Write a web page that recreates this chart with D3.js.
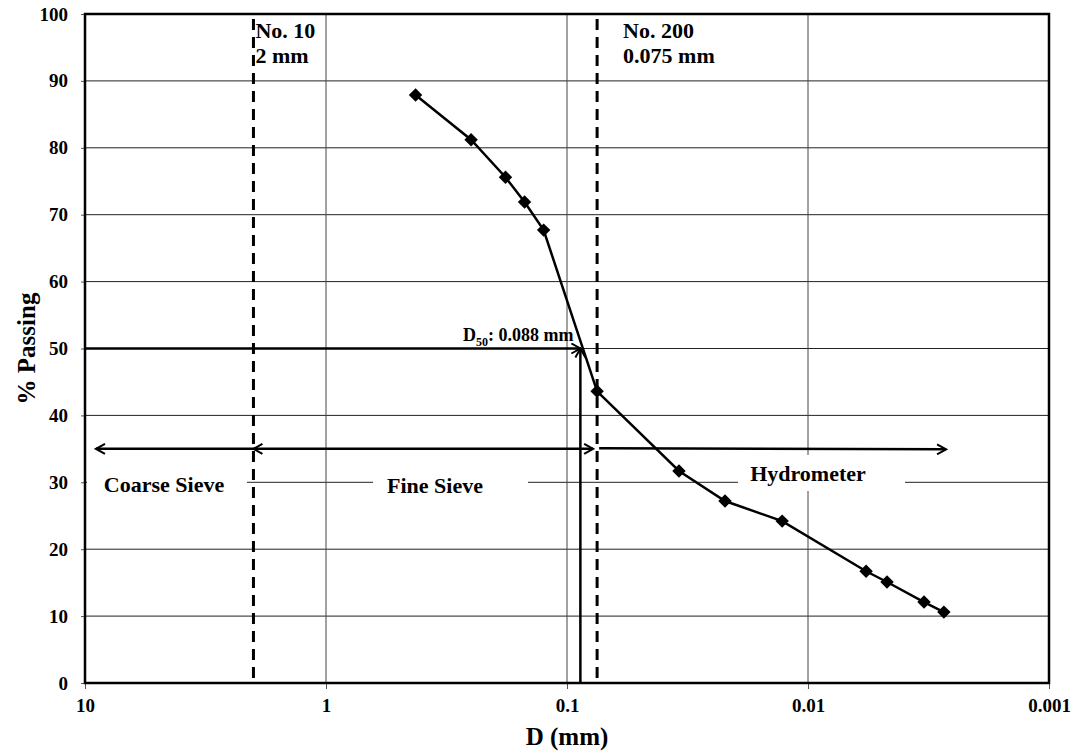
<!DOCTYPE html>
<html>
<head>
<meta http-equiv='Content-Type' content='text/html;charset=utf-8'/>
<title>Grain size distribution</title>
<script src='https://d3js.org/d3.v7.min.js'></script>
<style>
body { margin: 0; background: #ffffff; }
text { font-family: 'Liberation Serif', 'Times New Roman', serif; font-weight: bold; fill: #000; }
</style>
</head>
<body>
<script>
'use strict'

// particle size (mm) and percent passing
const diameters = [0.425, 0.25, 0.18, 0.15, 0.125, 0.075, 0.0343, 0.0221, 0.0128, 0.00574, 0.0047, 0.0033, 0.00273]
const passing = [87.9, 81.2, 75.6, 71.9, 67.7, 43.6, 31.7, 27.2, 24.2, 16.7, 15.1, 12.1, 10.6]

const xTicks = [10, 1, 0.1, 0.01, 0.001]
const yTicks = [0, 10, 20, 30, 40, 50, 60, 70, 80, 90, 100]

// sieve limits and D50
const sieveSizes = [2, 0.075]
const sieveLabels = [['No. 10', '2 mm'], ['No. 200', '0.075 mm']]
const d50 = 0.088
const rangeLevel = 35
const rangeLabels = ['Coarse Sieve', 'Fine Sieve', 'Hydrometer']

const margin = {top: 14, right: 25, bottom: 72, left: 85}
const width = 1074 - margin.left - margin.right
const height = 755 - margin.top - margin.bottom

const svg = d3.select('body').append('svg')
	.attr('width', 1074)
	.attr('height', 755)

const defs = svg.append('defs')
defs.append('marker')
	.attr('id', 'chev')
	.attr('viewBox', '-10 -6 12 12')
	.attr('markerWidth', 12)
	.attr('markerHeight', 12)
	.attr('markerUnits', 'userSpaceOnUse')
	.attr('orient', 'auto-start-reverse')
	.append('path')
	.attr('d', 'M-9,-5 L0,0 L-9,5')
	.attr('fill', 'none')
	.attr('stroke', '#000')
	.attr('stroke-width', 2)

const g = svg.append('g').attr('transform', `translate(${margin.left},${margin.top})`)

const x = d3.scaleLog().domain([10, 0.001]).range([0, width])
const y = d3.scaleLinear().domain([0, 100]).range([height, 0])

// grid
g.append('g')
	.selectAll('line')
	.data(yTicks.slice(1, -1))
	.join('line')
	.attr('x1', 0).attr('x2', width)
	.attr('y1', d => y(d)).attr('y2', d => y(d))
	.attr('stroke', '#222').attr('stroke-width', 1)

g.append('g')
	.selectAll('line')
	.data(xTicks.slice(1, -1))
	.join('line')
	.attr('x1', d => x(d)).attr('x2', d => x(d))
	.attr('y1', 0).attr('y2', height)
	.attr('stroke', '#444').attr('stroke-width', 1)

// axes
const yAxis = g.append('g')
	.call(d3.axisLeft(y).tickValues(yTicks).tickSize(4).tickPadding(13))
yAxis.select('.domain').remove()
yAxis.selectAll('line').attr('stroke', '#555')
yAxis.selectAll('text').style('font-size', '19px')

const xAxis = g.append('g')
	.attr('transform', `translate(0,${height})`)
	.call(d3.axisBottom(x).tickValues(xTicks).tickFormat(d3.format('~g')).tickSize(6).tickPadding(10))
xAxis.select('.domain').remove()
xAxis.selectAll('line').attr('stroke', '#555')
xAxis.selectAll('text').style('font-size', '19px')

// range labels with white boxes
const boxes = [[2, 162], [288, 443], [653, 820]]
const labelX = [79, 350, 723]
const labelBase = [478, 479, 467]
rangeLabels.forEach((t, i) => {
	g.append('rect')
		.attr('x', boxes[i][0]).attr('y', labelBase[i] - 26)
		.attr('width', boxes[i][1] - boxes[i][0]).attr('height', 36)
		.attr('fill', '#fff')
	g.append('text')
		.attr('x', labelX[i]).attr('y', labelBase[i])
		.attr('text-anchor', 'middle')
		.style('font-size', '22px')
		.text(t)
})

// sieve boundary dashed lines
sieveSizes.forEach((s, i) => {
	g.append('line')
		.attr('x1', x(s)).attr('x2', x(s))
		.attr('y1', 5).attr('y2', height)
		.attr('stroke', '#000').attr('stroke-width', 3)
		.attr('stroke-dasharray', '11,7')
	const tx = x(s) + (i == 0 ? 2 : 26)
	sieveLabels[i].forEach((l, j) => {
		g.append('text')
			.attr('x', tx).attr('y', 24 + j * 25)
			.style('font-size', '22px')
			.text(l)
	})
})

// range arrows
const ry = y(rangeLevel)
g.append('line')
	.attr('x1', x(2)).attr('x2', 11).attr('y1', ry).attr('y2', ry)
	.attr('stroke', '#000').attr('stroke-width', 2.5)
	.attr('marker-end', 'url(#chev)')
g.append('line')
	.attr('x1', x(2)).attr('x2', x(0.075) - 4).attr('y1', ry).attr('y2', ry)
	.attr('stroke', '#000').attr('stroke-width', 2.5)
	.attr('marker-start', 'url(#chev)')
	.attr('marker-end', 'url(#chev)')
g.append('line')
	.attr('x1', x(0.075) + 2).attr('x2', x(0.0027) + 1).attr('y1', ry - 0.5).attr('y2', ry + 0.5)
	.attr('stroke', '#000').attr('stroke-width', 2.5)
	.attr('marker-end', 'url(#chev)')

// D50 lines
g.append('line')
	.attr('x1', 0).attr('x2', x(d50)).attr('y1', y(50)).attr('y2', y(50))
	.attr('stroke', '#000').attr('stroke-width', 2.5)
	.attr('marker-end', 'url(#chev)')
g.append('line')
	.attr('x1', x(d50)).attr('x2', x(d50)).attr('y1', height).attr('y2', y(50))
	.attr('stroke', '#000').attr('stroke-width', 2.5)
	.attr('marker-end', 'url(#chev)')
const d50Text = g.append('text')
	.attr('x', x(d50) - 7).attr('y', y(50) - 8)
	.attr('text-anchor', 'end')
	.style('font-size', '18px')
d50Text.append('tspan').text('D')
d50Text.append('tspan').attr('dy', 5).style('font-size', '12px').text('50')
d50Text.append('tspan').attr('dy', -5).text(': 0.088 mm')

// data line and markers
const pts = diameters.map((d, i) => [d, passing[i]])
g.append('path')
	.datum(pts)
	.attr('fill', 'none')
	.attr('stroke', '#000')
	.attr('stroke-width', 2.5)
	.attr('d', d3.line().x(d => x(d[0])).y(d => y(d[1])))
g.append('g')
	.selectAll('path')
	.data(pts)
	.join('path')
	.attr('transform', d => `translate(${x(d[0])},${y(d[1])}) rotate(45)`)
	.attr('d', d3.symbol(d3.symbolSquare, 90))
	.attr('fill', '#000')

// frame
g.append('rect')
	.attr('width', width).attr('height', height)
	.attr('fill', 'none').attr('stroke', '#000').attr('stroke-width', 2.5)

// axis titles
svg.append('text')
	.attr('transform', `translate(35,${margin.top + height / 2}) rotate(-90)`)
	.attr('text-anchor', 'middle')
	.style('font-size', '25px')
	.text('% Passing')
svg.append('text')
	.attr('x', margin.left + x(0.1)).attr('y', 745)
	.attr('text-anchor', 'middle')
	.style('font-size', '25px')
	.text('D (mm)')
</script>
</body>
</html>
